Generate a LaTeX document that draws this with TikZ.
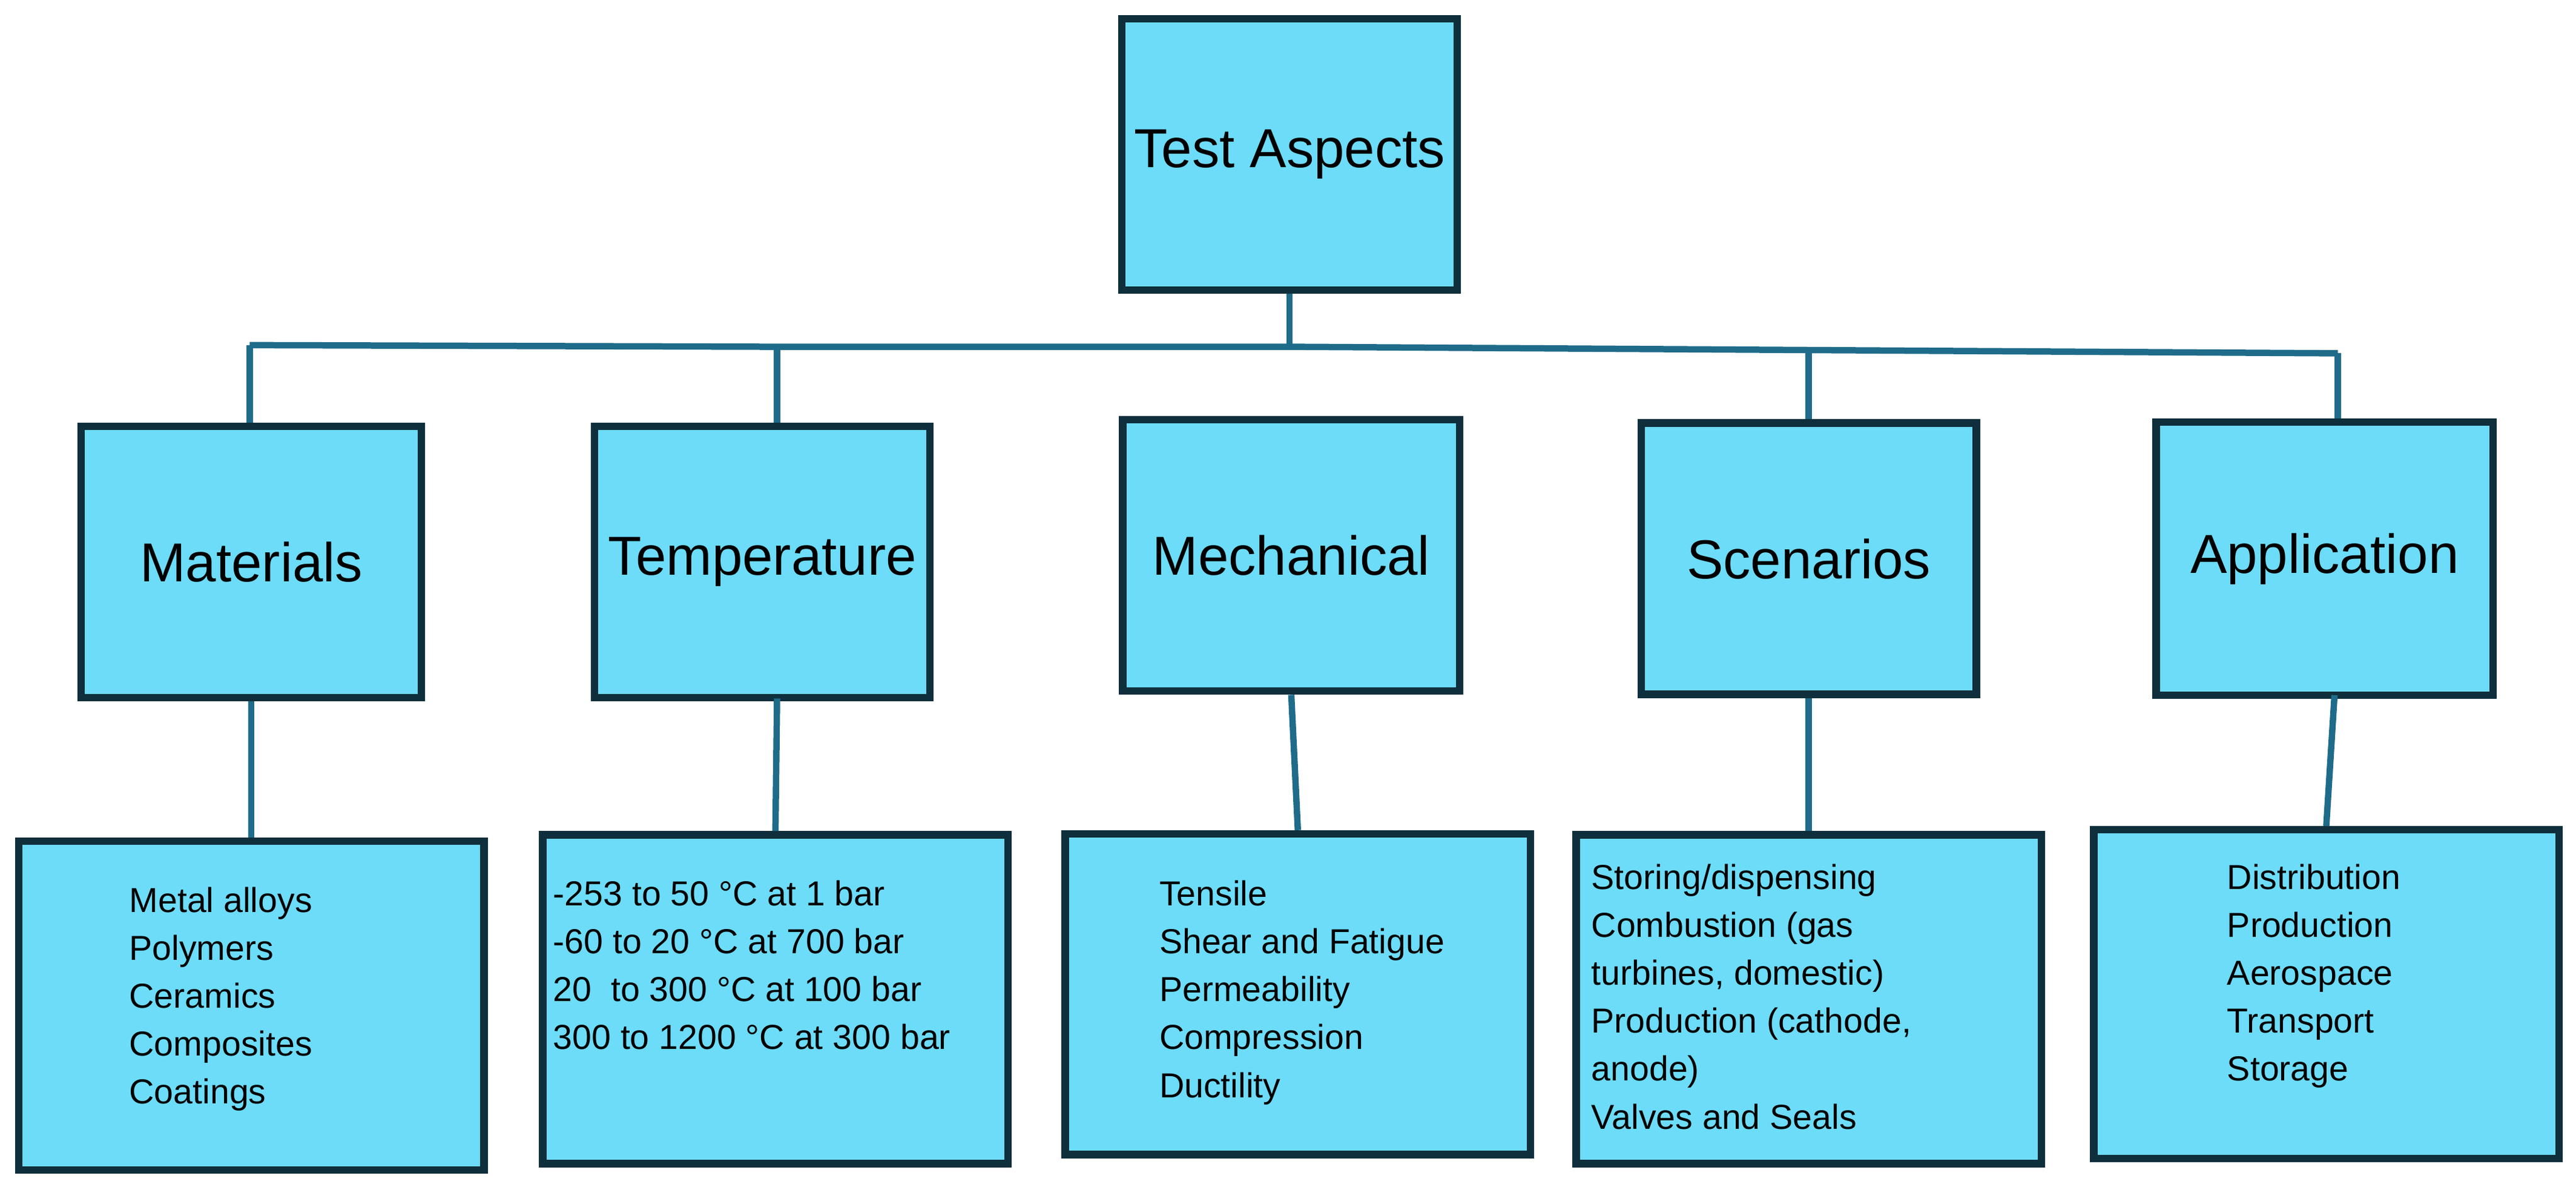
\documentclass[tikz,border=0pt]{standalone}
\usepackage{fontspec}
\setmainfont{Liberation Sans}
\usepackage{tikz}
\definecolor{boxfill}{HTML}{6DDCF8}
\definecolor{boxline}{HTML}{0F2F3C}
\definecolor{linkline}{HTML}{1F6B8A}
\tikzset{
  box/.style={draw=boxline, fill=boxfill, line width=1.3pt, inner sep=0pt},
  head/.style={font=\fontsize{9.5}{11}\selectfont},
  items/.style={anchor=north west, align=left, inner sep=0pt, font=\fontsize{6}{8.3}\selectfont},
  link/.style={draw=linkline, line width=1.1pt}
}
\begin{document}
\begin{tikzpicture}[x=0.01cm, y=-0.01cm]
        \useasboundingbox (0,0) rectangle (1568,724);
        % top
        \node[box, head, minimum width=2.04cm, minimum height=1.65cm] (top) at (785,94) {Test Aspects};
        % middle row
        \node[box, head, minimum width=2.07cm, minimum height=1.65cm] (mat) at (153,342) {Materials};
        \node[box, head, minimum width=2.04cm, minimum height=1.65cm] (tem) at (464,342) {Temperature};
        \node[box, head, minimum width=2.05cm, minimum height=1.65cm] (mec) at (786,338) {Mechanical};
        \node[box, head, minimum width=2.04cm, minimum height=1.65cm] (sce) at (1101,340) {Scenarios};
        \node[box, head, minimum width=2.05cm, minimum height=1.66cm] (app) at (1415,340) {Application};
        % bottom row
        \node[box, minimum width=2.83cm, minimum height=2.0cm] (bmat) at (153,612) {};
        \node[box, minimum width=2.83cm, minimum height=2.0cm] (btem) at (472,608) {};
        \node[box, minimum width=2.83cm, minimum height=1.95cm] (bmec) at (790,605) {};
        \node[box, minimum width=2.83cm, minimum height=2.0cm] (bsce) at (1101,608) {};
        \node[box, minimum width=2.83cm, minimum height=2.0cm] (bapp) at (1416,605) {};
        \node[items] (tmat) at (78,539) {Metal alloys\\Polymers\\Ceramics\\Composites\\Coatings};
        \node[items] (ttem) at (336,535) {-253 to 50 °C at 1 bar\\-60 to 20 °C at 700 bar\\20~ to 300 °C at 100 bar\\300 to 1200 °C at 300 bar};
        \node[items] (tmec) at (705,535) {Tensile\\Shear and Fatigue\\Permeability\\Compression\\Ductility};
        \node[items] (tsce) at (968,525) {Storing/dispensing\\Combustion (gas\\turbines, domestic)\\Production (cathode,\\anode)\\Valves and Seals};
        \node[items] (tapp) at (1355,525) {Distribution\\Production\\Aerospace\\Transport\\Storage};
        % bus
        \coordinate (c0) at (785,211);
        \coordinate (c1) at (152,210);
        \coordinate (c2) at (473,211);
        \coordinate (c4) at (1101,213);
        \coordinate (c5) at (1423,215);
        \draw[link] (top.south) -- (c0);
        \draw[link] (c1) -- (c2) -- (c0) -- (c4) -- (c5);
        \draw[link] (c1) -- (c1 |- mat.north);
        \draw[link] (c2) -- (c2 |- tem.north);
        \draw[link] (c4) -- (c4 |- sce.north);
        \draw[link] (c5) -- (c5 |- app.north);
        \draw[link] (mat.south) -- (bmat.north);
        \draw[link] (473,425) -- (btem.north);
        \draw[link] (mec.south) -- (bmec.north);
        \draw[link] (sce.south) -- (bsce.north);
        \draw[link] (1421,423) -- (bapp.north);
\end{tikzpicture}
\end{document}
